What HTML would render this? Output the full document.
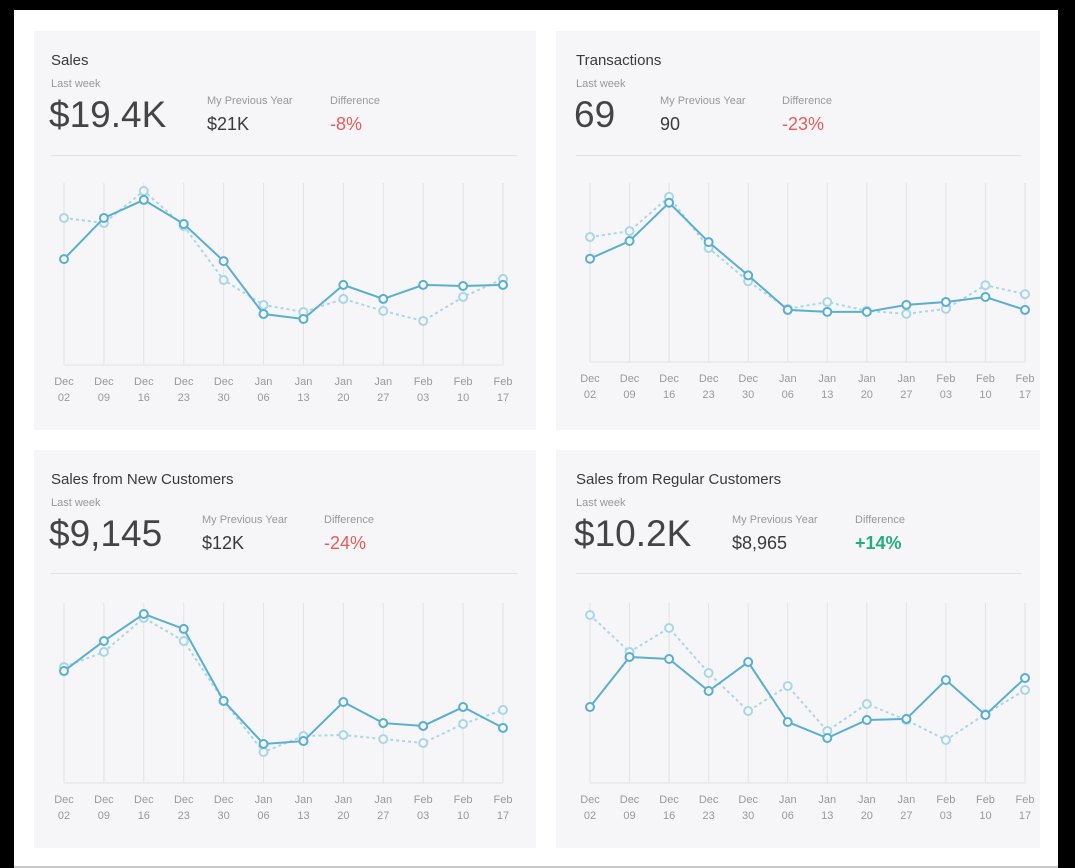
<!DOCTYPE html>
<html><head><meta charset="utf-8">
<style>
html,body{margin:0;padding:0;}
body{width:1075px;height:868px;background:#000;position:relative;overflow:hidden;font-family:"Liberation Sans",Arial,sans-serif;}
#sheet{position:absolute;left:14px;top:10px;width:1044px;height:856px;background:#fff;border-bottom:2px solid #c8c8c8;}
.card{position:absolute;background:#f6f6f8;}
.card svg{position:absolute;left:0;top:0;}
.t{position:absolute;white-space:nowrap;}
.title{font-size:15px;color:#3a3a3a;}
.lw{font-size:11px;color:#999;}
.big{font-size:37px;color:#444;}
.lab{font-size:11px;color:#999;}
.val{font-size:18px;color:#3a3a3a;}
.neg{font-size:18px;color:#ee5a5a;}
.pos{font-size:18px;color:#1fb07a;font-weight:bold;}
.div{position:absolute;height:1px;background:#e2e2e4;}
</style></head><body>
<div id="sheet"></div>
<div id="root"></div>
<script>
const categories = ["Dec|02","Dec|09","Dec|16","Dec|23","Dec|30","Jan|06","Jan|13","Jan|20","Jan|27","Feb|03","Feb|10","Feb|17"];
const salesCurrent = [58.2,80.8,90.7,77.5,57.1,28.0,25.3,44.0,36.3,44.0,43.4,44.0];
const salesPrevious = [80.8,78.0,95.6,76.4,46.7,33.0,29.1,36.3,29.7,24.2,37.4,47.3];
const transCurrent = [57.7,67.6,89.0,67.0,48.4,29.1,28.0,28.0,31.9,33.5,36.3,29.1];
const transPrevious = [69.8,73.1,92.3,63.7,45.1,29.7,33.5,28.6,26.9,29.7,42.9,37.9];
const newCurrent = [62.2,78.9,93.9,85.6,45.6,21.7,23.3,45.0,33.3,31.7,42.2,30.6];
const newPrevious = [64.4,72.8,91.7,78.9,45.6,17.2,26.1,26.7,24.4,22.2,32.8,40.6];
const regCurrent = [42.2,70.0,68.9,51.1,67.2,33.9,25.0,35.0,35.6,57.2,37.8,58.3];
const regPrevious = [93.3,72.8,86.1,61.1,40.0,53.9,28.9,43.9,35.0,23.9,38.3,51.7];
const titles = ["Sales","Transactions","Sales from New Customers","Sales from Regular Customers"];
const bigValues = ["$19.4K","69","$9,145","$10.2K"];
const prevValues = ["$21K","90","$12K","$8,965"];
const diffValues = ["-8%","-23%","-24%","+14%"];

const NS="http://www.w3.org/2000/svg";
const root=document.getElementById('root');
function mk(tag,attrs,parent){const e=document.createElementNS(NS,tag);for(const k in attrs)e.setAttribute(k,attrs[k]);parent.appendChild(e);return e;}
function txt(parent,cls,s,x,y){const d=document.createElement('div');d.className='t '+cls;d.textContent=s;d.style.left=x+'px';d.style.top=y+'px';parent.appendChild(d);return d;}

const cfgs=[
 {x:34,y:31,w:502,h:399,pad:17,x0:30,x1:469,top:152,bot:334,prevX:173,diffX:296,cur:salesCurrent,prev:salesPrevious},
 {x:556,y:31,w:484,h:399,pad:20,x0:34,x1:469,top:152,bot:331,prevX:104,diffX:226,cur:transCurrent,prev:transPrevious},
 {x:34,y:450,w:502,h:398,pad:17,x0:30,x1:469,top:153,bot:333,prevX:168,diffX:290,cur:newCurrent,prev:newPrevious},
 {x:556,y:450,w:484,h:398,pad:20,x0:34,x1:469,top:153,bot:333,prevX:176,diffX:299,cur:regCurrent,prev:regPrevious}
];
const names=["sales","transactions","new-customers","regular-customers"];
cfgs.forEach((c,i)=>{
 const card=document.createElement('div');card.className='card';
 card.style.left=c.x+'px';card.style.top=c.y+'px';card.style.width=c.w+'px';card.style.height=c.h+'px';
 
 
 root.appendChild(card);
 let e=txt(card,'title',titles[i],c.pad,21);
 
 
 e=txt(card,'lw','Last week',c.pad,47);
 
 
 e=txt(card,'big',bigValues[i],c.pad-2,63);
 
 
 e=txt(card,'lab','My Previous Year',c.prevX,64);
 
 
 e=txt(card,'val',prevValues[i],c.prevX,83);
 
 
 e=txt(card,'lab','Difference',c.diffX,64);
 
 
 e=txt(card,diffValues[i][0]=='+'?'pos':'neg',diffValues[i],c.diffX,83);
 
 
 const dv=document.createElement('div');dv.className='div';dv.style.left=c.pad+'px';dv.style.top=(i<2?124:123)+'px';dv.style.width=(c.w-c.pad-19)+'px';
 
 
 card.appendChild(dv);
 const svg=mk('svg',{width:c.w,height:c.h},card);
 
 
 const n=categories.length;
 const xs=k=>c.x0+(c.x1-c.x0)*k/(n-1);
 const ys=v=>c.bot-(c.bot-c.top)*v/100;
 categories.forEach((cat,k)=>{
  const g=mk('line',{x1:xs(k),x2:xs(k),y1:c.top,y2:c.bot,stroke:'#e3e3e6','stroke-width':1},svg);
  
  
  const parts=cat.split('|');
  const t=mk('text',{x:xs(k),y:c.bot+20,'text-anchor':'middle','font-size':11,fill:'#999','font-family':'Liberation Sans, sans-serif'},svg);
  
  
  const a=mk('tspan',{x:xs(k)},t);a.textContent=parts[0];
  const b=mk('tspan',{x:xs(k),dy:16},t);b.textContent=parts[1];
 });
 const base=mk('line',{x1:c.x0,x2:c.x1,y1:c.bot,y2:c.bot,stroke:'#e3e3e6'},svg);
 
 
 [[c.prev,'#a9d7e8','3,3','previous'],[c.cur,'#5aafcf',null,'current']].forEach(([arr,col,dash,nm])=>{
  const pl=mk('polyline',{points:arr.map((v,k)=>xs(k)+','+ys(v)).join(' '),fill:'none',stroke:col,'stroke-width':2},svg);
  if(dash)pl.setAttribute('stroke-dasharray',dash);
  
  
  arr.forEach((v,k)=>{
   const p=mk('circle',{cx:xs(k),cy:ys(v),r:4,fill:'#f6f6f8',stroke:col,'stroke-width':2},svg);
   
   
  });
 });
});
</script>
</body></html>
